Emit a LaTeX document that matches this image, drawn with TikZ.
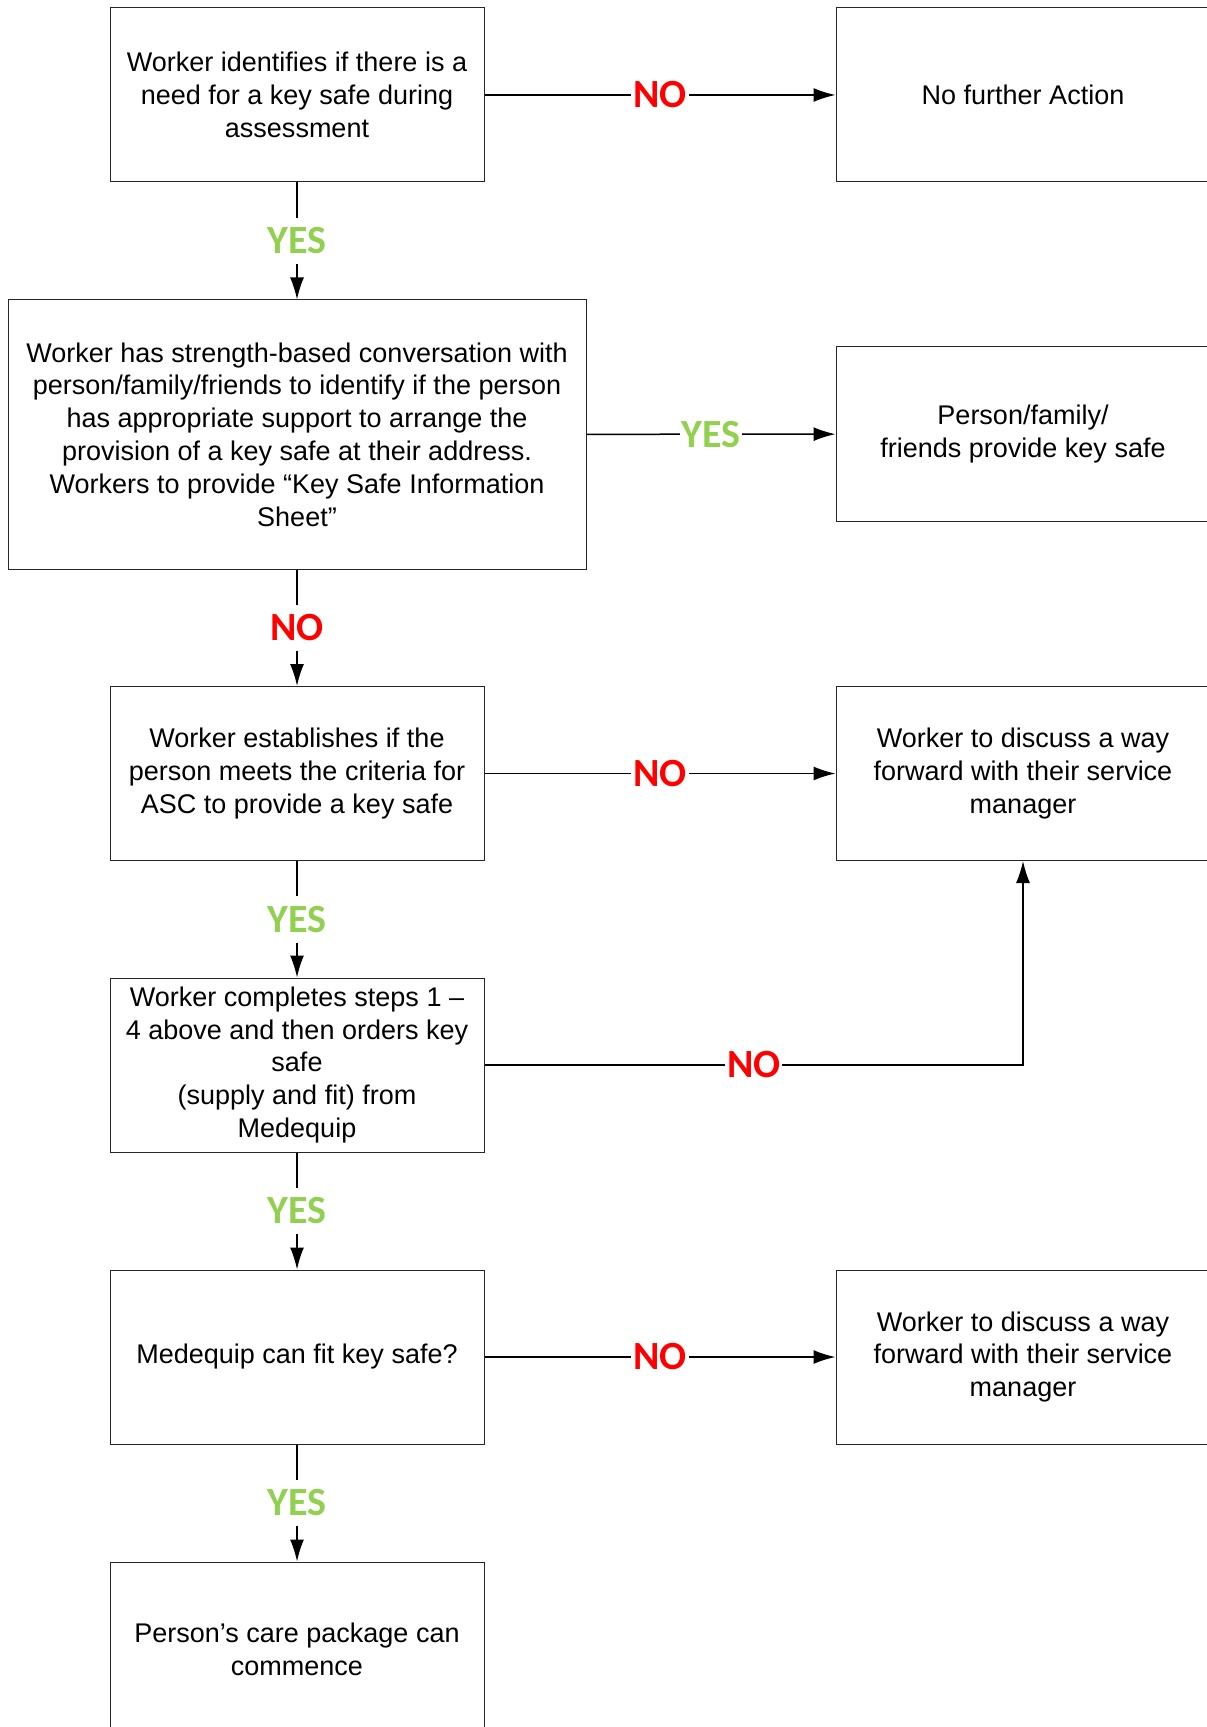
\documentclass[tikz,border=0pt]{standalone}
\usepackage{fontspec}
\setmainfont{Liberation Sans}
\newfontfamily\answerfont{Carlito}
\usetikzlibrary{arrows.meta}
\definecolor{nored}{RGB}{255,0,0}
\definecolor{yesgreen}{RGB}{146,208,80}

\begin{document}
\begin{tikzpicture}[
  x=0.5pt,y=-0.5pt,
  box/.style={draw=black!85,line width=0.5pt,minimum width=187pt,minimum height=87pt,
    align=center,inner sep=2pt,font=\fontsize{13.5}{16.4}\selectfont},
  widebox/.style={box,minimum width=289pt,minimum height=134.5pt},
  flow/.style={line width=0.75pt,-{Latex[length=11pt,width=7pt]}},
  no/.style={fill=white,inner sep=1pt,text=nored,font=\answerfont\bfseries\fontsize{20}{24}\selectfont},
  yes/.style={no,text=yesgreen},
  down/.style={inner ysep=5pt}
]%
  \useasboundingbox (0,0) rectangle (1206,1727);

  % Left column
  \node[box] (identify) at (297,95)
    {Worker identifies if there is a\\need for a key safe during\\assessment};
  \node[widebox] (conversation) at (297,434.5)
    {Worker has strength-based conversation with\\person/family/friends to identify if the person\\has appropriate support to arrange the\\provision of a key safe at their address.\\Workers to provide “Key Safe Information\\Sheet”};
  \node[box] (criteria) at (297,773.5)
    {Worker establishes if the\\person meets the criteria for\\ASC to provide a key safe};
  \node[box] (orders) at (297,1065)
    {Worker completes steps 1 –\\4 above and then orders key\\safe\\(supply and fit) from\\Medequip};
  \node[box] (canfit) at (297,1357) {Medequip can fit key safe?};
  \node[box] (commence) at (297,1649) {Person’s care package can\\commence};

  % Right column
  \node[box] (nofurther) at (1023,95) {No further Action};
  \node[box] (family) at (1023,434) {Person/family/\\friends provide key safe};
  \node[box] (discussA) at (1023,773.5)
    {Worker to discuss a way\\forward with their service\\manager};
  \node[box] (discussB) at (1023,1357)
    {Worker to discuss a way\\forward with their service\\manager};

  % Yes branches
  \draw[flow] (identify) -- node[yes,down] {YES} (conversation);
  \draw[flow] (conversation) -- node[yes] {YES} (family);
  \draw[flow] (criteria) -- node[yes,down] {YES} (orders);
  \draw[flow] (orders) -- node[yes,down] {YES} (canfit);
  \draw[flow] (canfit) -- node[yes,down] {YES} (commence);

  % No branches
  \draw[flow] (identify) -- node[no] {NO} (nofurther);
  \draw[flow] (conversation) -- node[no,down] {NO} (criteria);
  \draw[flow] (criteria) -- node[no] {NO} (discussA);
  \draw[flow] (orders.east) -| node[no,pos=0.25] {NO} (discussA.south);
  \draw[flow] (canfit) -- node[no] {NO} (discussB);
\end{tikzpicture}
\end{document}
